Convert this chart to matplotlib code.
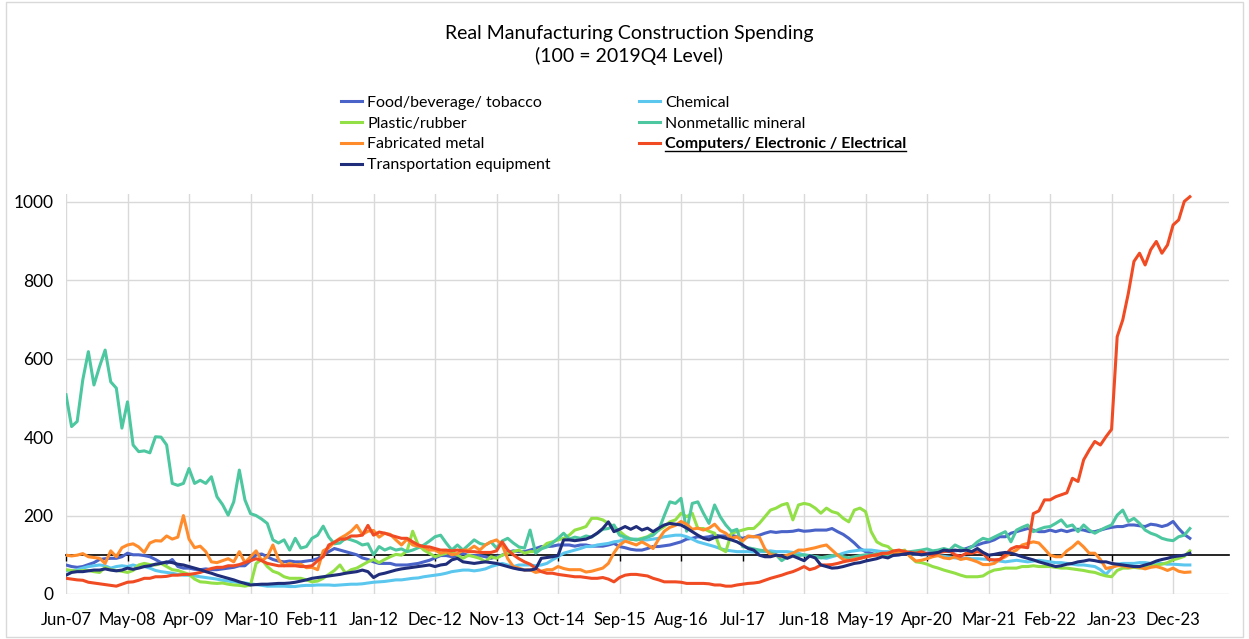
import numpy as np
import matplotlib.pyplot as plt
from matplotlib.lines import Line2D

plt.rcParams['font.family'] = ['Lato', 'DejaVu Sans']

# monthly index from Jun-07 to Mar-24, labels every 11 months
tick_labels = ['Jun-07', 'May-08', 'Apr-09', 'Mar-10', 'Feb-11', 'Jan-12', 'Dec-12',
               'Nov-13', 'Oct-14', 'Sep-15', 'Aug-16', 'Jul-17', 'Jun-18', 'May-19',
               'Apr-20', 'Mar-21', 'Feb-22', 'Jan-23', 'Dec-23']

food = [74, 70, 68, 70, 75, 80, 88, 90, 91, 91, 95, 104, 100, 100, 98, 95, 88, 80, 78, 88, 70, 66, 66, 63, 62, 64, 62, 62, 64, 66, 68, 72, 72,
        85, 100, 102, 95, 88, 84, 82, 84, 82, 82, 84, 86, 90, 100, 108, 116, 112, 108, 104, 100, 92, 88, 82, 78, 78, 78, 74, 74, 74, 76, 78, 82, 86,
        92, 98, 98, 95, 98, 103, 98, 98, 98, 95, 91, 95, 99, 106, 110, 108, 108, 112, 116, 121, 121, 122, 125, 125, 125, 122, 125, 125, 122, 122, 122, 125, 129,
        121, 118, 114, 112, 112, 116, 121, 121, 123, 125, 129, 133, 140, 142, 146, 144, 146, 150, 148, 148, 150, 146, 142, 146, 146, 150, 155, 159, 157, 159, 159, 160, 163,
        160, 161, 163, 163, 163, 167, 159, 152, 142, 130, 116, 108, 104, 99, 102, 99, 98, 100, 102, 102, 102, 104, 104, 106, 108, 110, 108, 110, 112, 116, 121, 125, 130,
        133, 138, 146, 146, 155, 159, 163, 167, 163, 159, 159, 163, 159, 163, 159, 163, 165, 163, 159, 159, 163, 167, 170, 172, 172, 176, 176, 174, 172, 178, 176, 172, 176, 185, 167, 152, 142]

chemical = [60, 58, 62, 66, 70, 72, 74, 72, 66, 70, 72, 70, 74, 70, 70, 66, 60, 57, 55, 53, 50, 48, 48, 46, 44, 42, 40, 38, 35, 33, 31, 29, 28,
            26, 24, 22, 20, 20, 20, 20, 19, 19, 21, 22, 22, 23, 23, 23, 22, 23, 24, 25, 25, 26, 28, 30, 31, 32, 34, 36, 36, 38, 40, 41, 44, 46,
            48, 50, 53, 57, 59, 61, 61, 59, 61, 64, 70, 74, 78, 74, 70, 74, 74, 74, 72, 74, 78, 87, 95, 104, 108, 112, 116, 121, 121, 125, 127, 129, 133,
            135, 140, 140, 140, 138, 138, 140, 142, 146, 148, 150, 150, 146, 140, 133, 129, 125, 121, 116, 112, 110, 108, 108, 108, 107, 108, 108, 110, 108, 108, 108, 106, 104,
            99, 97, 95, 93, 91, 95, 99, 104, 108, 110, 112, 112, 112, 110, 108, 108, 106, 104, 104, 103, 102, 100, 100, 99, 98, 96, 94, 92, 91, 92, 90, 90, 89,
            88, 86, 84, 82, 84, 86, 84, 82, 84, 86, 84, 82, 80, 80, 78, 76, 74, 74, 72, 70, 62, 50, 66, 76, 78, 78, 78, 80, 80, 78, 78, 78, 76, 76, 75, 74, 74]

plastic = [62, 60, 58, 60, 60, 57, 55, 68, 62, 60, 58, 55, 60, 74, 78, 75, 74, 78, 70, 62, 60, 55, 50, 38, 31, 30, 28, 27, 28, 25, 23, 22, 20,
           23, 78, 88, 70, 58, 53, 44, 40, 40, 40, 36, 31, 33, 40, 50, 60, 74, 53, 62, 66, 74, 82, 88, 80, 88, 95, 101, 99, 110, 160, 125, 112, 104,
           95, 100, 104, 108, 99, 91, 99, 95, 91, 82, 95, 91, 99, 104, 108, 112, 104, 108, 108, 116, 129, 133, 138, 142, 150, 163, 167, 172, 193, 193, 189, 180, 172,
           160, 148, 140, 138, 142, 146, 155, 163, 172, 184, 189, 206, 197, 206, 167, 167, 160, 155, 116, 108, 155, 159, 163, 167, 167, 180, 197, 214, 219, 227, 231, 189, 227,
           231, 228, 219, 206, 219, 210, 206, 193, 184, 214, 219, 210, 159, 133, 125, 121, 108, 108, 112, 95, 82, 80, 76, 70, 66, 61, 57, 53, 48, 44, 44, 44, 46,
           55, 61, 63, 66, 66, 66, 70, 70, 72, 70, 70, 70, 68, 66, 66, 64, 62, 60, 57, 55, 50, 46, 44, 60, 66, 66, 68, 66, 68, 70, 74, 76, 80, 87, 91, 96, 110]

nonmetallic = [508, 427, 440, 546, 618, 533, 580, 622, 541, 525, 423, 490, 380, 363, 365, 360, 401, 400, 380, 282, 277, 282, 320, 282, 290, 282, 299, 248, 228, 201, 235, 316, 240,
               205, 200, 191, 180, 138, 130, 138, 112, 142, 117, 121, 142, 150, 173, 145, 128, 130, 142, 138, 133, 125, 128, 100, 121, 112, 118, 112, 115, 108, 112, 118, 125, 135,
               146, 150, 130, 112, 125, 112, 125, 138, 129, 125, 133, 117, 135, 142, 130, 120, 117, 163, 104, 115, 120, 130, 142, 155, 140, 145, 142, 148, 145, 155, 165, 167, 176,
               150, 145, 140, 138, 140, 145, 150, 163, 200, 235, 231, 244, 160, 231, 235, 206, 180, 227, 197, 176, 160, 165, 121, 118, 115, 112, 110, 105, 100, 85, 95, 100, 98,
               100, 98, 95, 92, 95, 98, 100, 95, 92, 95, 98, 100, 100, 103, 98, 100, 104, 102, 105, 108, 110, 112, 115, 110, 112, 116, 112, 125, 118, 112, 120, 133, 142,
               138, 145, 152, 159, 133, 163, 170, 176, 159, 165, 170, 172, 180, 189, 172, 176, 159, 176, 163, 155, 163, 170, 176, 201, 214, 185, 193, 180, 163, 155, 150, 142, 138, 136, 146, 150, 167]

fabricated = [99, 97, 99, 103, 95, 93, 91, 78, 110, 95, 118, 125, 128, 120, 106, 130, 136, 135, 148, 140, 145, 200, 140, 118, 122, 108, 82, 80, 85, 90, 82, 108, 80,
              95, 110, 85, 95, 125, 88, 72, 78, 74, 76, 67, 68, 62, 110, 118, 132, 142, 150, 160, 175, 152, 160, 162, 145, 155, 152, 138, 125, 140, 125, 122, 120, 112,
              112, 104, 108, 100, 103, 112, 112, 122, 112, 125, 133, 138, 125, 90, 70, 66, 61, 62, 55, 58, 62, 62, 70, 65, 62, 62, 62, 56, 58, 62, 66, 78, 105,
              125, 135, 130, 125, 133, 125, 116, 140, 160, 170, 175, 185, 178, 165, 168, 163, 168, 178, 162, 155, 142, 146, 135, 148, 146, 145, 115, 100, 99, 95, 99, 104, 112,
              112, 115, 118, 122, 125, 112, 99, 88, 85, 89, 91, 94, 97, 99, 102, 104, 106, 104, 110, 95, 84, 86, 90, 95, 98, 92, 90, 95, 88, 91, 87, 82, 75,
              75, 78, 88, 95, 105, 112, 125, 129, 133, 130, 115, 99, 95, 95, 110, 120, 133, 120, 104, 104, 88, 65, 68, 72, 72, 68, 70, 68, 64, 68, 70, 66, 60, 66, 58, 55, 56]

computers = [40, 38, 36, 35, 30, 28, 26, 24, 22, 20, 25, 30, 31, 35, 40, 40, 44, 44, 45, 48, 48, 50, 50, 52, 55, 60, 65, 68, 68, 72, 72, 75, 80,
             85, 90, 85, 78, 75, 72, 72, 72, 72, 70, 70, 72, 85, 95, 125, 132, 140, 140, 148, 148, 150, 175, 150, 158, 155, 150, 146, 142, 142, 133, 125, 121, 120,
             116, 112, 112, 110, 112, 110, 108, 108, 106, 106, 106, 110, 133, 112, 100, 90, 82, 76, 66, 57, 53, 53, 50, 48, 46, 44, 44, 42, 40, 40, 42, 38, 31,
             42, 48, 50, 50, 48, 46, 40, 36, 31, 31, 31, 30, 27, 27, 27, 27, 26, 23, 23, 20, 20, 23, 25, 27, 28, 30, 35, 40, 44, 48, 53, 57, 63,
             70, 62, 66, 74, 74, 75, 78, 82, 85, 87, 91, 95, 98, 100, 104, 104, 110, 112, 108, 106, 104, 108, 102, 99, 105, 108, 110, 100, 96, 104, 104, 108, 104,
             88, 87, 88, 100, 115, 121, 120, 118, 205, 212, 240, 240, 248, 253, 258, 295, 287, 342, 367, 389, 380, 401, 420, 656, 699, 767, 848, 869, 839, 878, 899, 869, 890, 941, 954, 1001, 1013]

transport = [48, 55, 57, 57, 59, 61, 61, 64, 61, 59, 61, 66, 63, 66, 70, 72, 76, 78, 82, 80, 76, 74, 70, 66, 62, 57, 53, 48, 44, 40, 36, 31, 27,
             23, 24, 25, 25, 26, 27, 27, 28, 30, 33, 36, 40, 42, 44, 46, 48, 50, 53, 55, 57, 61, 57, 42, 50, 53, 57, 61, 64, 66, 68, 70, 72, 74,
             70, 74, 76, 87, 91, 82, 80, 78, 80, 82, 80, 78, 74, 70, 66, 63, 61, 61, 64, 91, 93, 95, 98, 138, 138, 136, 138, 140, 146, 155, 167, 184, 159,
             165, 172, 165, 172, 163, 168, 159, 168, 176, 180, 178, 176, 168, 159, 150, 142, 138, 144, 146, 142, 138, 133, 125, 116, 112, 99, 95, 95, 99, 97, 91, 97, 91,
             85, 97, 92, 74, 70, 66, 67, 70, 74, 78, 80, 84, 87, 90, 95, 92, 99, 100, 102, 104, 102, 100, 102, 104, 106, 112, 110, 112, 110, 112, 108, 116, 106,
             99, 101, 104, 106, 104, 100, 95, 91, 87, 82, 78, 74, 70, 72, 76, 78, 82, 84, 87, 85, 82, 82, 78, 76, 74, 72, 70, 70, 74, 78, 84, 88, 91, 95, 97, 99, 104]

names = ['Food/beverage/ tobacco', 'Chemical', 'Plastic/rubber', 'Nonmetallic mineral',
         'Fabricated metal', 'Computers/ Electronic / Electrical', 'Transportation equipment']
colors = ['#4a63c8', '#5bc7ef', '#92e046', '#4cc7a0', '#ff8b2b', '#f04b23', '#1f2d7a']
data = [food, chemical, plastic, nonmetallic, fabricated, computers, transport]

fig = plt.figure(figsize=(12.49, 6.39), dpi=100)
ax = fig.add_axes([66 / 1249, 45 / 639, 1163 / 1249, 400 / 639])

ymax = 1020
lines = {}
for name, col, vals in zip(names, colors, data):
    x = np.arange(len(vals))
    ln, = ax.plot(x, vals, color=col, lw=2.2, label=name, solid_joinstyle='round')
    lines[name] = ln

ax.set_xlim(0, 208)
ax.set_ylim(0, ymax)
ticks = np.arange(len(tick_labels)) * 11
ax.set_xticks(ticks)
ax.set_xticklabels(tick_labels, fontsize=12)
ax.set_yticks(np.arange(0, 1001, 200))
ax.tick_params(axis='x', length=0, pad=13)
ax.tick_params(axis='y', length=0, pad=9, labelsize=12.5)
ax.grid(True, color='#d9d9d9', lw=1)
ax.set_axisbelow(True)
for s in ax.spines.values():
    s.set_visible(False)

# horizontal axis crossing at 100, with its own tick marks
sec = ax.secondary_xaxis(100 / ymax)
sec.set_xticks(ticks)
sec.set_xticklabels([])
sec.tick_params(length=4, width=1, color='black', direction='out')
for s in sec.spines.values():
    s.set_color('black')
    s.set_linewidth(1.2)
sec.set_zorder(1.8)

fig.text(0.504, 0.948, 'Real Manufacturing Construction Spending', ha='center', va='center', fontsize=14)
fig.text(0.504, 0.913, '(100 = 2019Q4 Level)', ha='center', va='center', fontsize=14)

order = [0, 2, 4, 6, 1, 3, 5]
leg = fig.legend([lines[names[i]] for i in order], [names[i] for i in order],
                 loc='upper left', bbox_to_anchor=(341 / 1249, 1 - 95.5 / 639), ncol=2,
                 frameon=False, fontsize=11.5, handlelength=1.3, handletextpad=0.35,
                 columnspacing=5.5, labelspacing=0.42, borderpad=0, borderaxespad=0)
for t in leg.get_texts():
    if t.get_text().startswith('Computers'):
        t.set_fontweight('bold')
        bold_text = t

# chart area border
fig.add_artist(plt.Rectangle((6 / 1249, 2 / 639), 1 - 12 / 1249, 1 - 4 / 639, transform=fig.transFigure,
                             fill=False, edgecolor='#d9d9d9', lw=1))

# underline the bold legend entry
fig.canvas.draw()
bb = bold_text.get_window_extent().transformed(fig.transFigure.inverted())
fig.add_artist(Line2D([bb.x0, bb.x1], [bb.y0 + 0.001, bb.y0 + 0.001], transform=fig.transFigure,
                      color='black', lw=1))

fig.savefig('out.png', dpi=100)
